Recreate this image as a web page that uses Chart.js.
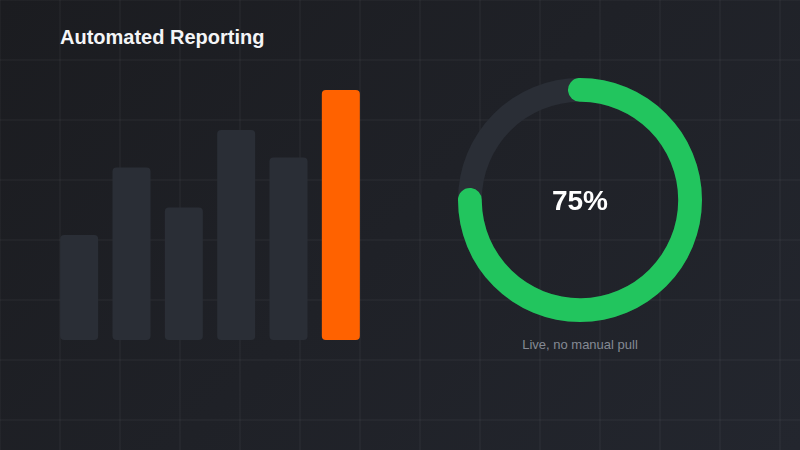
<!DOCTYPE html>
<html>
<head>
<meta charset="utf-8">
<script src="https://cdn.jsdelivr.net/npm/chart.js@4/dist/chart.umd.min.js"></script>
<style>
  html, body {
    margin: 0;
    padding: 0;
  }
  body {
    width: 800px;
    height: 450px;
    overflow: hidden;
    position: relative;
    font-family: "Liberation Sans", Arial, sans-serif;
    background:
      linear-gradient(rgba(255,255,255,0.028) 2px, transparent 2px) -1px -1px / 60px 60px,
      linear-gradient(90deg, rgba(255,255,255,0.028) 2px, transparent 2px) -1px -1px / 60px 60px,
      linear-gradient(135deg, #1b1c20 0%, #1f2127 50%, #23262e 100%);
  }
  .title {
    position: absolute;
    left: 60px;
    top: 26px;
    font-size: 20px;
    font-weight: bold;
    color: #f4f5f7;
  }
  .bars {
    position: absolute;
    left: 53px;
    top: 88px;
    width: 314px;
    height: 254px;
  }
  .ring {
    position: absolute;
    left: 450px;
    top: 70px;
    width: 260px;
    height: 260px;
  }
  .value {
    position: absolute;
    left: 480px;
    width: 200px;
    top: 185px;
    text-align: center;
    font-size: 28px;
    font-weight: bold;
    color: #ffffff;
  }
  .caption {
    position: absolute;
    left: 430px;
    width: 300px;
    top: 337px;
    text-align: center;
    font-size: 13px;
    color: #858a94;
  }
</style>
</head>
<body>
<div class="title">Automated Reporting</div>
<div class="bars"><canvas id="bars"></canvas></div>
<div class="ring"><canvas id="ring"></canvas></div>
<div class="value" id="value"></div>
<div class="caption">Live, no manual pull</div>

<script>
const barLabels = [`1`, `2`, `3`, `4`, `5`, `6`];
const barValues = [42, 69, 53, 84, 73, 100];
const barColors = [`#2a2e36`, `#2a2e36`, `#2a2e36`, `#2a2e36`, `#2a2e36`, `#ff6200`];

const progress = [75, 25];

const GREEN = `#22c55e`;
const TRACK = `#2a2e36`;

new Chart(document.getElementById(`bars`), {
  type: `bar`,
  data: {
    labels: barLabels,
    datasets: [{
      data: barValues,
      backgroundColor: barColors,
      borderRadius: 4,
      borderSkipped: false,
      barPercentage: 0.726,
      categoryPercentage: 1
    }]
  },
  options: {
    responsive: true,
    maintainAspectRatio: false,
    animation: false,
    layout: {padding: {top: 2, bottom: 2}},
    plugins: {legend: {display: false}, tooltip: {enabled: false}},
    scales: {
      x: {display: false},
      y: {display: false, min: 0, max: 100}
    }
  }
});

// grey track behind the progress arc, using the arc's own geometry
const trackPlugin = {
  id: `track`,
  beforeDatasetsDraw(chart) {
    const arc = chart.getDatasetMeta(0).data[0];
    if (!arc) {
      return;
    }
    const {x, y, innerRadius, outerRadius} = arc.getProps([`x`, `y`, `innerRadius`, `outerRadius`], true);
    const ctx = chart.ctx;
    ctx.save();
    ctx.beginPath();
    ctx.arc(x, y, outerRadius, 0, Math.PI * 2);
    ctx.arc(x, y, innerRadius, Math.PI * 2, 0, true);
    ctx.closePath();
    ctx.fillStyle = TRACK;
    ctx.fill();
    ctx.restore();
  }
};

// round caps poke past the ends of the arc by half the ring thickness
const CAP_DEG = 6.25;
const arcDeg = 360 * progress[0] / (progress[0] + progress[1]);

new Chart(document.getElementById(`ring`), {
  type: `doughnut`,
  data: {
    labels: [`done`, `rest`],
    datasets: [{
      data: progress,
      backgroundColor: [GREEN, `rgba(0,0,0,0)`],
      borderWidth: 0,
      borderRadius: (ctx) => ctx.dataIndex === 0 ? 12 : 0
    }]
  },
  options: {
    responsive: true,
    maintainAspectRatio: false,
    animation: false,
    cutout: `80.5%`,
    rotation: -CAP_DEG,
    circumference: 360 * (arcDeg + CAP_DEG * 2) / arcDeg,
    layout: {padding: 8},
    plugins: {legend: {display: false}, tooltip: {enabled: false}}
  },
  plugins: [trackPlugin]
});

document.getElementById(`value`).textContent = `${progress[0]}%`;
</script>
</body>
</html>
